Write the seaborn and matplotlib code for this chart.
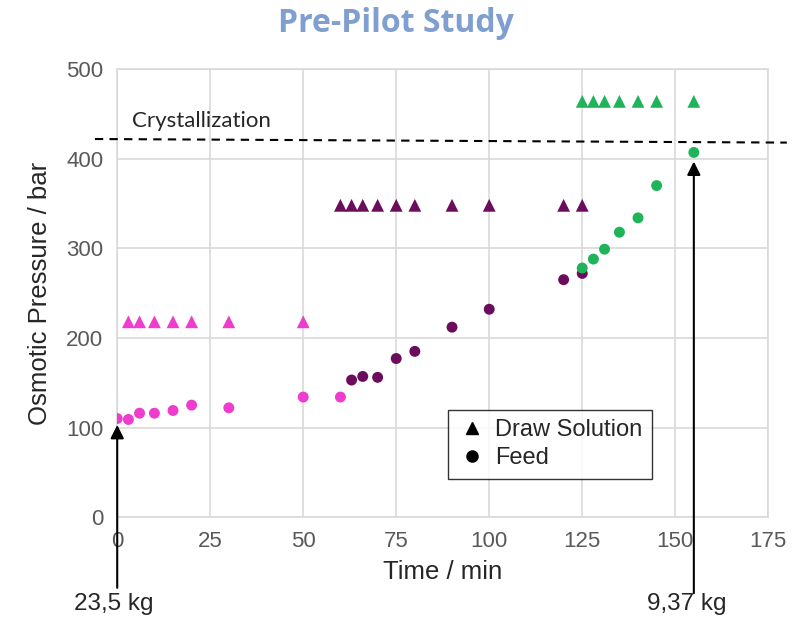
import matplotlib

matplotlib.use("Agg", force=True)
import matplotlib.pyplot as plt
import pandas as pd
import seaborn as sns
from matplotlib.lines import Line2D

# phase 1 (magenta)
t_draw_1 = [3, 6, 10, 15, 20, 30, 50]
p_draw_1 = [218, 218, 218, 218, 218, 218, 218]
t_feed_1 = [0, 3, 6, 10, 15, 20, 30, 50, 60]
p_feed_1 = [110, 109, 116, 116, 119, 125, 122, 134, 134]

# phase 2 (purple)
t_draw_2 = [60, 63, 66, 70, 75, 80, 90, 100, 120, 125]
p_draw_2 = [348, 348, 348, 348, 348, 348, 348, 348, 348, 348]
t_feed_2 = [63, 66, 70, 75, 80, 90, 100, 120, 125]
p_feed_2 = [153, 157, 156, 177, 185, 212, 232, 265, 272]

# phase 3 (green)
t_draw_3 = [125, 128, 131, 135, 140, 145, 155]
p_draw_3 = [464, 464, 464, 464, 464, 464, 464]
t_feed_3 = [125, 128, 131, 135, 140, 145, 155]
p_feed_3 = [278, 288, 299, 318, 334, 370, 407]

crystallization = 420
x_ticks = [0, 25, 50, 75, 100, 125, 150, 175]
y_ticks = [0, 100, 200, 300, 400, 500]

colors = ["#ee3ccf", "#6b0c5c", "#1fb45a"]

sns.set_theme(style="white")
plt.rcParams["font.family"] = ["Liberation Sans", "DejaVu Sans"]

fig = plt.figure(figsize=(7.92, 6.4), dpi=100)
ax = fig.add_axes([0.148, 0.192, 0.822, 0.700])

draws = [(t_draw_1, p_draw_1), (t_draw_2, p_draw_2), (t_draw_3, p_draw_3)]
feeds = [(t_feed_1, p_feed_1), (t_feed_2, p_feed_2), (t_feed_3, p_feed_3)]
for (td, pd_), (tf, pf), c in zip(draws, feeds, colors):
    sns.scatterplot(x=td, y=pd_, marker="^", s=85, color=c, edgecolor="none", ax=ax, zorder=3)
    sns.scatterplot(x=tf, y=pf, marker="o", s=62, color=c, edgecolor="none", ax=ax, zorder=3)

ax.set_xlim(0, 175)
ax.set_ylim(0, 500)
ax.set_xticks(x_ticks)
ax.set_yticks(y_ticks)
ax.grid(True, color="#d9d9d9", linewidth=1.2)
ax.set_axisbelow(True)
for sp in ax.spines.values():
    sp.set_color("#d9d9d9")
    sp.set_linewidth(1.2)
ax.tick_params(axis="both", length=0, labelsize=16, labelcolor="#595959", pad=10)
ax.set_xlabel("Time / min", fontsize=18.5, labelpad=6)
ax.set_ylabel("Osmotic Pressure / bar", fontsize=18.5, labelpad=10)

# crystallization limit
ax.plot([-6, 180], [crystallization + 2, crystallization - 2], ls="--", color="black",
        lw=1.5, dashes=(4, 3), clip_on=False, zorder=4)
ax.text(4, 442, "Crystallization", fontsize=16, family=["Lato", "DejaVu Sans"], va="center")

# start / end arrows
arrow = dict(arrowstyle="-|>", color="black", lw=1.5, mutation_scale=20)
ax.annotate("", xy=(0, 106), xytext=(0, -82), arrowprops=arrow, annotation_clip=False)
ax.annotate("", xy=(155, 400), xytext=(155, -88), arrowprops=arrow, annotation_clip=False)
ax.text(-1, -85, "23,5 kg", fontsize=17.5, ha="center", va="top", clip_on=False)
ax.text(153, -85, "9,37 kg", fontsize=17.5, ha="center", va="top", clip_on=False)

# legend
handles = [
    Line2D([], [], marker="^", ls="none", color="black", markersize=8),
    Line2D([], [], marker="o", ls="none", color="black", markersize=8),
]
leg = ax.legend(handles, ["Draw Solution", "Feed"], loc="upper left",
                bbox_to_anchor=(0.49, 0.266), fontsize=17, frameon=True,
                fancybox=False, edgecolor="black", handletextpad=0.4,
                borderpad=0.4, labelspacing=0.25, handlelength=1.2)
leg.get_frame().set_linewidth(1.0)

fig.text(0.5, 0.963, "Pre-Pilot Study", ha="center", va="center", fontsize=23,
         fontweight="bold", color="#7f9fd0", family=["Open Sans", "DejaVu Sans"])

fig.savefig("out.png", dpi=100)
